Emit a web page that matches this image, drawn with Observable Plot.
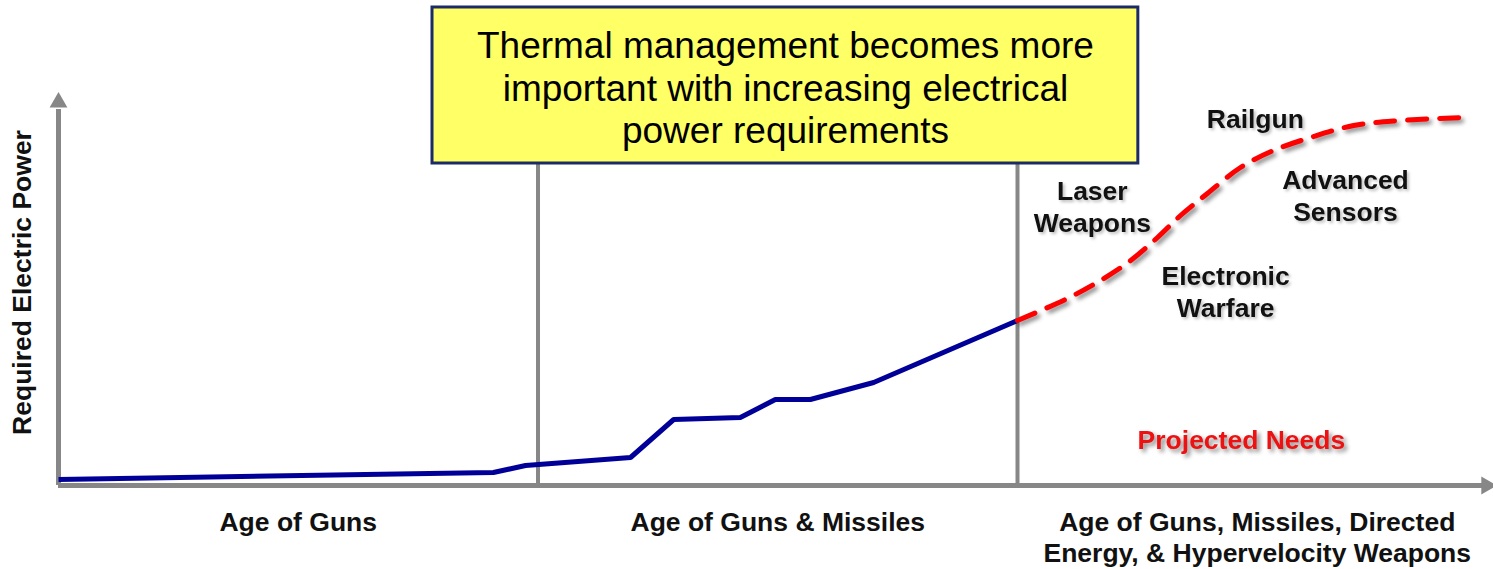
<!DOCTYPE html>
<html>
<head>
<meta charset="utf-8">
<script src="https://cdn.jsdelivr.net/npm/d3@7"></script>
<script src="https://cdn.jsdelivr.net/npm/@observablehq/plot@0.6"></script>
<style>
  html, body { margin: 0; padding: 0; background: #fff; }
  #chart svg { display: block; }
  g[aria-description="shadow"] { filter: drop-shadow(3px 3px 2px rgba(0,0,0,0.45)); }
  g[aria-description="softshadow"] { filter: drop-shadow(2px 2px 1.5px rgba(0,0,0,0.25)); }
</style>
</head>
<body>
<div id="chart"></div>
<script>
// Eras (x in era units: 0 = start, each era = 1 unit)
const eraNames = ["Age of Guns", "Age of Guns & Missiles", "Age of Guns, Missiles, Directed\nEnergy, & Hypervelocity Weapons"];
const eraMid = [0.5, 1.5, 2.5];
const eraBoundaries = [1, 2];

// Historical required electric power (solid line)
const histT = [0, 0.907, 0.974, 1.193, 1.283, 1.422, 1.495, 1.568, 1.700, 2.0];
const histP = [1.5, 3.25, 5.0, 7.0, 16.5, 17.0, 21.5, 21.5, 25.75, 41.25];

// Projected needs (dashed line)
const projT = [2.0, 2.104, 2.173, 2.236, 2.292, 2.340, 2.396, 2.465, 2.534, 2.611, 2.701, 2.799, 2.930];
const projP = [41.25, 46.75, 51.25, 56.25, 62.0, 67.5, 73.0, 79.5, 83.75, 87.0, 90.0, 91.25, 92.0];

// Capability labels along projected curve
const capNames = ["Railgun", "Laser\nWeapons", "Advanced\nSensors", "Electronic\nWarfare"];
const capT = [2.496, 2.156, 2.684, 2.434];
const capP = [92, 70, 72.75, 48.75];

const projectedLabel = "Projected Needs";
const yLabel = "Required Electric Power";
const calloutText = "Thermal management becomes more\nimportant with increasing electrical\npower requirements";

const hist = histT.map((t, i) => ({t, p: histP[i]}));
const proj = projT.map((t, i) => ({t, p: projP[i]}));
const caps = capNames.map((name, i) => ({name, t: capT[i], p: capP[i]}));
const eras = eraNames.map((name, i) => ({name, t: eraMid[i]}));

const gray = "#878787";
const font = "'Liberation Sans', Arial, sans-serif";

const chart = Plot.plot({
  width: 1493,
  height: 569,
  margin: 0,
  style: {fontFamily: font, background: "#fff"},
  x: {domain: [0, 3], range: [58, 1496.5], axis: null},
  y: {domain: [0, 100], range: [485, 85], axis: null},
  marks: [
    // era dividers
    Plot.ruleX(eraBoundaries, {y1: 0, y2: 86, stroke: gray, strokeWidth: 4}),
    // axes
    Plot.ruleX([0], {y1: 0, y2: 94, stroke: gray, strokeWidth: 5}),
    Plot.ruleY([0], {x1: 0, x2: 2.975, stroke: gray, strokeWidth: 5}),
    Plot.dot([{t: 0, p: 95.8}], {x: "t", y: "p", symbol: "triangle2", r: 8.5, fill: gray, stroke: "none"}),
    Plot.dot([{t: 2.978, p: 0}], {x: "t", y: "p", symbol: "triangle2", r: 8.5, fill: gray, stroke: "none", rotate: 90}),
    // historical line
    Plot.line(hist, {x: "t", y: "p", stroke: "#000099", strokeWidth: 5, strokeLinejoin: "miter", strokeLinecap: "butt"}),
    // projected line
    Plot.line(proj, {x: "t", y: "p", curve: "catmull-rom", stroke: "#ff0000", strokeWidth: 5, strokeDasharray: "19,13", ariaDescription: "shadow"}),
    // callout box
    Plot.rect([{x1: 0.78, x2: 2.252, y1: 80.5, y2: 119.5}], {x1: "x1", x2: "x2", y1: "y1", y2: "y2", fill: "#ffff66", stroke: "#1c2a66", strokeWidth: 3}),
    Plot.text([calloutText], {x: 1.516, y: 99.6, text: d => d, fontSize: 37, lineHeight: 1.14, fill: "#000", textAnchor: "middle", fontFamily: font}),
    // capability labels
    Plot.text(caps, {x: "t", y: "p", text: "name", fontSize: 26.5, fontWeight: "bold", lineHeight: 1.2, fill: "#111", ariaDescription: "softshadow"}),
    Plot.text([projectedLabel], {x: 2.467, y: 11.25, text: d => d, fontSize: 26.5, fontWeight: "bold", fill: "#ee1111", ariaDescription: "shadow"}),
    // era labels
    Plot.text(eras, {x: "t", y: -9.5, text: "name", fontSize: 26.5, fontWeight: "bold", lineHeight: 1.19, lineAnchor: "top", dy: -15, fill: "#111"}),
    // y label
    Plot.text([yLabel], {x: -0.075, y: 50.75, text: d => d, rotate: -90, fontSize: 26.5, fontWeight: "bold", fill: "#111"})
  ]
});
document.getElementById("chart").append(chart);
</script>
</body>
</html>
